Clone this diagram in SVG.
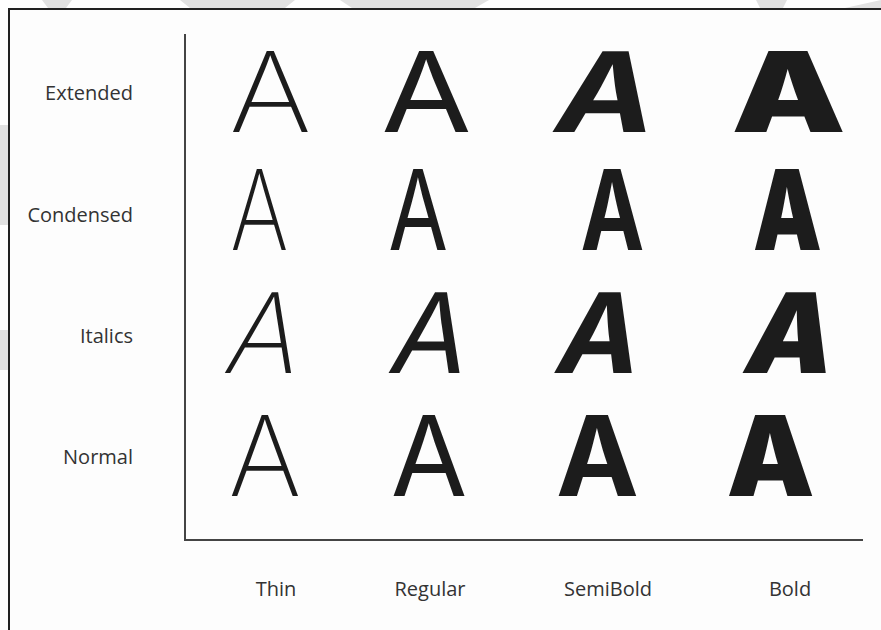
<svg xmlns="http://www.w3.org/2000/svg" width="881" height="630" viewBox="0 0 881 630">
<style>
.lbl{font-family:"Open Sans","Noto Sans","Liberation Sans",sans-serif;font-size:20px;fill:#333}
.row{text-anchor:end}
.col{text-anchor:middle}
.A{font-family:Inter,"Open Sans","Liberation Sans",sans-serif;font-size:111px;fill:#1c1c1c;text-anchor:middle}
.w1{font-weight:200}
.w4{font-weight:400}
.w6{font-weight:700}
.w9{font-weight:900}
.wm{fill:#e2e2e2}
</style>
<rect x="0" y="0" width="881" height="630" fill="#ffffff"/>
<g id="watermark">
<path class="wm" d="M42 0 H72 L66 8 H48 Z"/>
<path class="wm" d="M180 0 H295 L285 8 H190 Z"/>
<path class="wm" d="M340 0 H489 L475 8 H352 Z"/>
<path class="wm" d="M756 0 H787 L783 8 H760 Z"/>
<path class="wm" d="M845 8 L881 0 V8 Z"/>
<rect class="wm" x="0" y="125" width="8" height="100"/>
<rect class="wm" x="0" y="330" width="8" height="40"/>
</g>
<rect x="9" y="9" width="880" height="630" fill="#fdfdfd" stroke="#222" stroke-width="2"/>
<g id="axes" stroke="#444" stroke-width="2" fill="none">
<line x1="185" y1="34" x2="185" y2="540"/>
<line x1="184" y1="540" x2="863" y2="540"/>
</g>
<g id="row-labels">
<text class="lbl row" x="133" y="100">Extended</text>
<text class="lbl row" x="133" y="222">Condensed</text>
<text class="lbl row" x="133" y="343">Italics</text>
<text class="lbl row" x="133" y="464">Normal</text>
</g>
<g id="col-labels">
<text class="lbl col" x="276" y="596">Thin</text>
<text class="lbl col" x="430" y="596">Regular</text>
<text class="lbl col" x="608" y="596">SemiBold</text>
<text class="lbl col" x="790" y="596">Bold</text>
</g>
<g id="extended">
<text class="A w1" transform="translate(270.5 132) scale(1.13 1)">A</text>
<text class="A w4" transform="translate(426.5 132) scale(1.18 1)">A</text>
<text class="A w6" transform="translate(599 132) scale(1.2 1) skewX(-10)">A</text>
<text class="A w9" transform="translate(788.5 132) scale(1.3 1)">A</text>
</g>
<g id="condensed">
<text class="A w1" transform="translate(259.5 250) scale(0.8 1)">A</text>
<text class="A w4" transform="translate(418 250) scale(0.78 1)">A</text>
<text class="A w6" transform="translate(612.5 250) scale(0.77 1)">A</text>
<text class="A w9" transform="translate(787.5 250) scale(0.78 1)">A</text>
</g>
<g id="italics">
<text class="A w1" transform="translate(258 373) skewX(-12)">A</text>
<text class="A w4" transform="translate(424 373) skewX(-12)">A</text>
<text class="A w6" transform="translate(593 373) skewX(-12)">A</text>
<text class="A w9" transform="translate(784 373) skewX(-12)">A</text>
</g>
<g id="normal">
<text class="A w1" transform="translate(265 496)">A</text>
<text class="A w4" transform="translate(429 496)">A</text>
<text class="A w6" transform="translate(597.5 496)">A</text>
<text class="A w9" transform="translate(770.5 496)">A</text>
</g>
</svg>
